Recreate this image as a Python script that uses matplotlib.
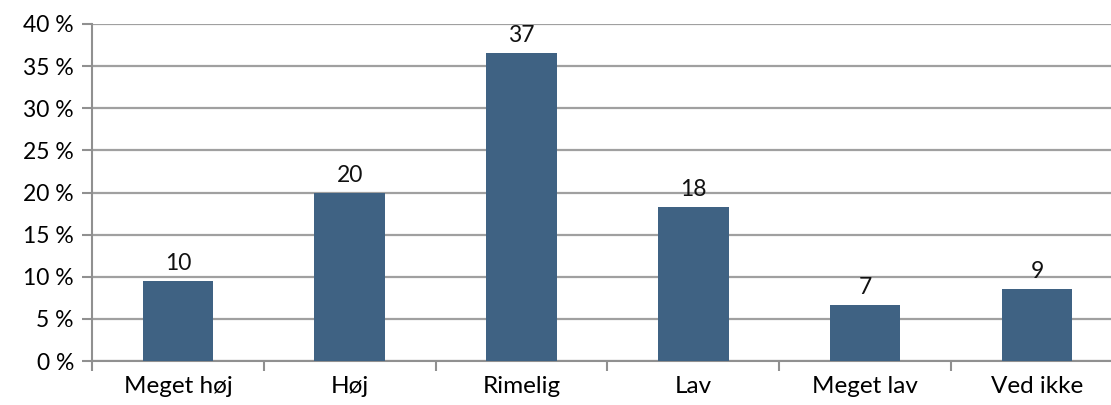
import matplotlib
matplotlib.use("Agg")
import matplotlib.pyplot as plt
from matplotlib.ticker import FuncFormatter, MultipleLocator

categories = ["Meget høj", "Høj", "Rimelig", "Lav", "Meget lav", "Ved ikke"]
values = [9.5, 19.9, 36.6, 18.3, 6.6, 8.5]
labels = ["10", "20", "37", "18", "7", "9"]

plt.rcParams['font.family'] = ['Lato', 'DejaVu Sans']

fig = plt.figure(figsize=(11.11, 4.05), dpi=100)
W, H = 1111, 405
x0, x1 = 92, 92 + 6 * 171.8
y0, y1 = 361, 24
ax = fig.add_axes([x0 / W, (H - y0) / H, (x1 - x0) / W, (y0 - y1) / H])

xs = list(range(len(categories)))
ax.bar(xs, values, width=0.41, color="#3F6283", zorder=3)
for x, v, lab in zip(xs, values, labels):
    ax.annotate(lab, (x, v), xytext=(0, 5), textcoords="offset points",
                ha="center", va="bottom", fontsize=16.5, color="#111111")

ax.set_xlim(-0.5, len(categories) - 0.5)
ax.set_ylim(0, 40)
ax.yaxis.set_major_locator(MultipleLocator(5))
ax.yaxis.set_major_formatter(FuncFormatter(lambda v, p: f"{int(v)} %"))
ax.grid(axis="y", color="#A0A0A0", linewidth=1.6, zorder=0)
ax.set_xticks(xs)
ax.set_xticklabels(categories, fontsize=17.5)
ax.tick_params(axis="x", length=0, pad=11)
ax.set_xticks([i - 0.5 for i in range(len(categories) + 1)], minor=True)
ax.tick_params(axis="x", which="minor", length=7, width=1.5, color="#909090")
ax.tick_params(axis="y", length=7, width=1.5, color="#909090", labelsize=16.5, pad=6)

for s in ["top", "right"]:
    ax.spines[s].set_visible(False)
for s in ["left", "bottom"]:
    ax.spines[s].set_color("#909090")
    ax.spines[s].set_linewidth(1.5)

fig.savefig("out.png", dpi=100)
